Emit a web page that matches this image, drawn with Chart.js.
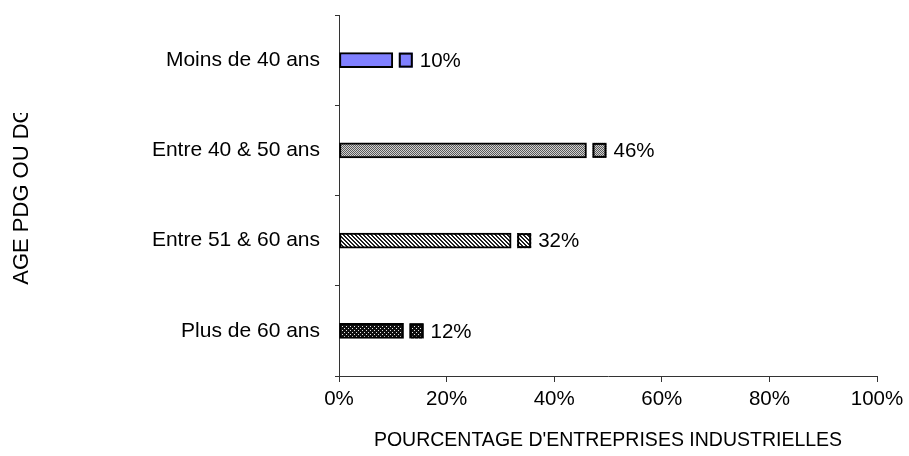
<!DOCTYPE html>
<html>
<head>
<meta charset="utf-8">
<script src="https://cdn.jsdelivr.net/npm/chart.js@4/dist/chart.umd.min.js"></script>
<style>
  html, body { margin: 0; padding: 0; background: #fff; }
  #wrap { width: 909px; height: 456px; }
</style>
</head>
<body>
<div id="wrap"><canvas id="ageChart" width="909" height="456"></canvas></div>
<script>
var categories = ["Moins de 40 ans", "Entre 40 & 50 ans", "Entre 51 & 60 ans", "Plus de 60 ans"];
var values = [10, 46, 32, 12];
var xTicks = [0, 20, 40, 60, 80, 100];
var yTitle = "AGE PDG OU DG";
var xTitle = "POURCENTAGE D'ENTREPRISES INDUSTRIELLES";

var FONT = "'Liberation Sans', Arial, sans-serif";

// small tiled fills for the bars
function makePattern(size, paint) {
    var c = document.createElement("canvas");
    c.width = size; c.height = size;
    var g = c.getContext("2d");
    paint(g);
    return g.createPattern(c, "repeat");
}

var fills = [
    "#8080ff",
    makePattern(4, function (g) {
        g.fillStyle = "#d0d0d0"; g.fillRect(0, 0, 4, 4);
        g.fillStyle = "#5a5a5a";
        for (var y = 0; y < 4; y++)
            for (var x = 0; x < 4; x++)
                if ((x + y) % 2 === 0) g.fillRect(x, y, 1, 1);
    }),
    makePattern(4, function (g) {
        g.fillStyle = "#ffffff"; g.fillRect(0, 0, 4, 4);
        g.fillStyle = "#202020";
        for (var y = 0; y < 4; y++)
            for (var x = 0; x < 4; x++)
                if (((x - y) % 4 + 4) % 4 < 2) g.fillRect(x, y, 1, 1);
    }),
    makePattern(4, function (g) {
        g.fillStyle = "#101010"; g.fillRect(0, 0, 4, 4);
        g.fillStyle = "#e8e8e8";
        g.fillRect(0, 0, 1, 1);
        g.fillRect(2, 2, 1, 1);
    })
];

// legend key square + value label after each bar, and the clipped y title
var barLabels = {
    id: "barLabels",
    afterDatasetsDraw: function (chart) {
        var ctx = chart.ctx;
        var meta = chart.getDatasetMeta(0);
        ctx.save();
        meta.data.forEach(function (bar, i) {
            var h = bar.height;
            var sx = bar.x + 6, sw = 14;
            ctx.fillStyle = fills[i];
            ctx.fillRect(sx, bar.y - h / 2, sw, h);
            ctx.lineWidth = 2;
            ctx.strokeStyle = "#000";
            ctx.strokeRect(sx + 1, bar.y - h / 2 + 1, sw - 2, h - 2);
            ctx.fillStyle = "#000";
            ctx.font = "20.5px " + FONT;
            ctx.textAlign = "left";
            ctx.textBaseline = "middle";
            ctx.fillText(values[i] + "%", sx + sw + 7, bar.y + 1);
        });
        ctx.restore();
    },
    afterDraw: function (chart) {
        var ctx = chart.ctx;
        var area = chart.chartArea;
        ctx.save();
        ctx.beginPath();
        ctx.rect(0, 113, 60, chart.height - 113);
        ctx.clip();
        ctx.translate(22, (area.top + area.bottom) / 2);
        ctx.rotate(-Math.PI / 2);
        ctx.fillStyle = "#000";
        ctx.font = "22px " + FONT;
        ctx.textAlign = "center";
        ctx.textBaseline = "middle";
        ctx.fillText(yTitle, 0, 0);
        ctx.restore();
    }
};

new Chart(document.getElementById("ageChart").getContext("2d"), {
    type: "bar",
    data: {
        labels: categories,
        datasets: [{
            data: values,
            backgroundColor: fills,
            borderColor: "#000",
            borderWidth: 2,
            borderSkipped: false,
            barThickness: 15
        }]
    },
    plugins: [barLabels],
    options: {
        indexAxis: "y",
        responsive: false,
        animation: false,
        layout: { padding: { left: 0, right: 32, top: 15, bottom: 0 } },
        plugins: {
            legend: { display: false },
            tooltip: { enabled: false }
        },
        scales: {
            x: {
                min: 0,
                max: 100,
                afterBuildTicks: function (scale) {
                    scale.ticks = xTicks.map(function (v) { return { value: v }; });
                },
                afterFit: function (scale) { scale.height = 80; },
                border: { display: true, color: "#333", width: 1 },
                grid: { display: true, drawOnChartArea: false, drawTicks: true, tickLength: 6, color: "#333" },
                ticks: {
                    padding: 5,
                    color: "#000",
                    font: { family: FONT, size: 20.5 },
                    callback: function (v) { return v + "%"; }
                },
                title: {
                    display: true,
                    text: xTitle,
                    color: "#000",
                    font: { family: FONT, size: 19.5 },
                    padding: { top: 0, bottom: 4 }
                }
            },
            y: {
                afterFit: function (scale) {
                    scale.width = 339;
                    scale.paddingTop = 0;
                    scale.paddingBottom = 0;
                },
                border: { display: true, color: "#333", width: 1 },
                grid: { display: true, offset: true, drawOnChartArea: false, drawTicks: true, tickLength: 4, color: "#333" },
                ticks: {
                    padding: 15,
                    color: "#000",
                    font: { family: FONT, size: 21 }
                }
            }
        }
    }
});
</script>
</body>
</html>
